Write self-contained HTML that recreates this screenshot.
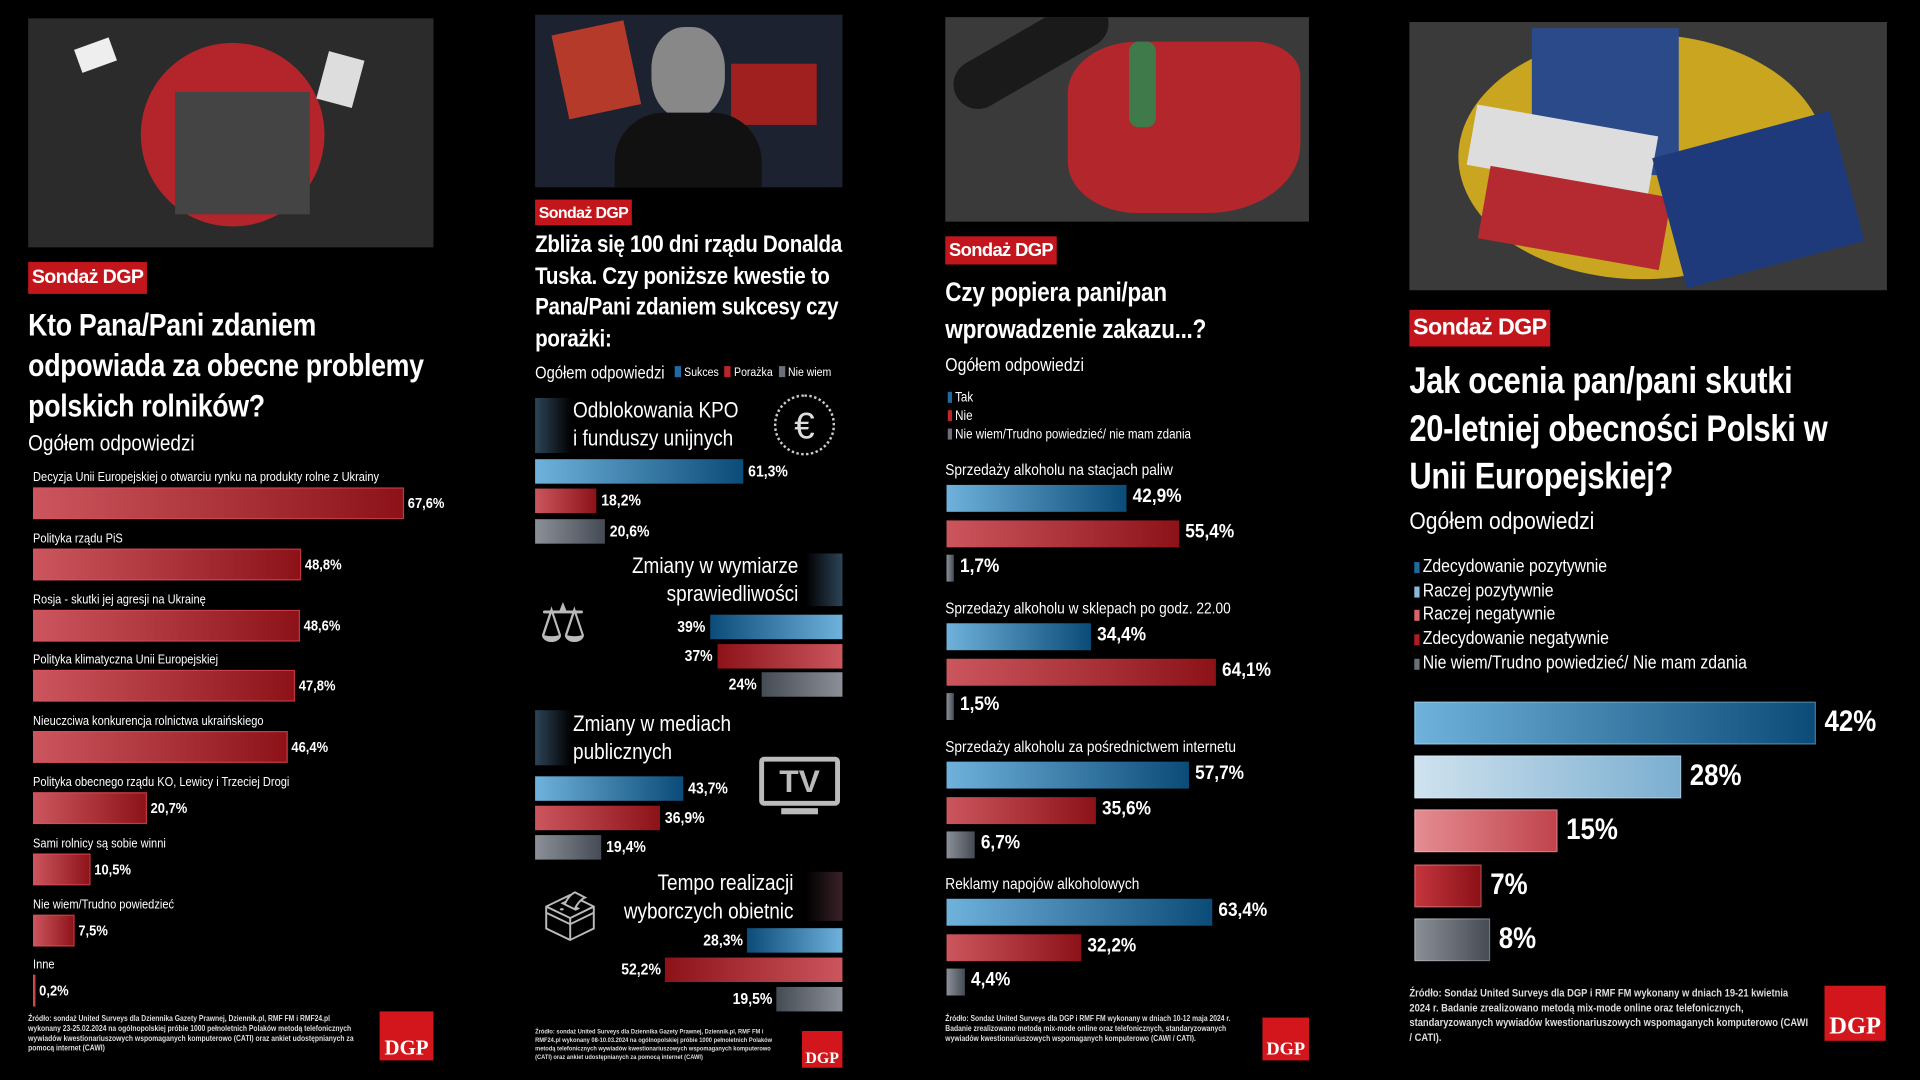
<!DOCTYPE html>
<html><head><meta charset="utf-8">
<style>
html,body{margin:0;padding:0;background:#000;width:1920px;height:1080px;overflow:hidden}
#stage{position:absolute;left:0;top:0;width:1568px;height:882px;transform:scale(1.22449);transform-origin:0 0;font-family:"Liberation Sans Narrow","Liberation Sans",sans-serif;color:#fff}
.abs{position:absolute}
.img{position:absolute;background:#2b2b2b;overflow:hidden}
.badge{position:absolute;background:#c3161c;color:#fff;font-weight:bold;padding:0 3px;white-space:nowrap;letter-spacing:-0.5px}
.title{position:absolute;font-weight:bold;white-space:nowrap;letter-spacing:-0.3px;transform:scaleX(.84);transform-origin:0 0}
.sub{position:absolute;white-space:nowrap;transform:scaleX(.86);transform-origin:0 0}
.sub.r{transform-origin:100% 0}
.lbl{position:absolute;white-space:nowrap;font-size:11px;transform:scaleX(.86);transform-origin:0 0}
.val{position:absolute;white-space:nowrap;font-weight:bold;transform:scaleX(.88);transform-origin:0 0}
.val.r{transform-origin:100% 0}
.bar{position:absolute}
.foot{position:absolute;font-size:6.5px;line-height:8px;color:#ddd;font-weight:bold;transform:scaleX(.85);transform-origin:0 0}
.logo{position:absolute;background:#d2161c;color:#fff;font-family:"Liberation Serif",serif;font-weight:bold;display:flex;align-items:flex-end;justify-content:center}
.sq{display:inline-block;width:6px;height:9px;margin-right:3px;vertical-align:-1px}
.hdr{position:absolute;background:linear-gradient(90deg,#2d4458,#000)}
</style></head><body>
<div id="stage">

<!-- Panel 1 -->
<div class="img" style="left:23px;top:15px;width:331px;height:187px">
  <div class="abs" style="left:92px;top:20px;width:150px;height:150px;border-radius:50%;background:#b3252a"></div>
  <div class="abs" style="left:120px;top:60px;width:110px;height:100px;background:#444"></div>
  <div class="abs" style="left:40px;top:20px;width:30px;height:20px;background:#eee;transform:rotate(-20deg)"></div>
  <div class="abs" style="left:240px;top:30px;width:30px;height:40px;background:#ddd;transform:rotate(15deg)"></div>
</div>
<div class="badge" style="left:23px;top:214px;height:26px;line-height:26px;font-size:16px">Sondaż DGP</div>
<div class="title" style="left:23px;top:249px;font-size:26px;line-height:33px">Kto Pana/Pani zdaniem<br>odpowiada za obecne problemy<br>polskich rolników?</div>
<div class="sub" style="left:23px;top:352px;font-size:18px">Ogółem odpowiedzi</div>
<div id="p1"></div>
<div class="foot" style="left:23px;top:829px;width:322px">Źródło: sondaż United Surveys dla Dziennika Gazety Prawnej, Dziennik.pl, RMF FM i RMF24.pl wykonany 23-25.02.2024 na ogólnopolskiej próbie 1000 pełnoletnich Polaków metodą telefonicznych wywiadów kwestionariuszowych wspomaganych komputerowo (CATI) oraz ankiet udostępnianych za pomocą internet (CAWI)</div>
<div class="logo" style="left:310px;top:826px;width:44px;height:40px;font-size:17px">DGP</div>

<!-- Panel 2 -->
<div class="img" style="left:437px;top:12px;width:251px;height:141px;background:#1c2230">
  <div class="abs" style="left:20px;top:10px;width:60px;height:70px;background:#b53a2a;transform:rotate(-12deg)"></div>
  <div class="abs" style="left:160px;top:40px;width:70px;height:50px;background:#a02020"></div>
  <div class="abs" style="left:95px;top:10px;width:60px;height:75px;border-radius:45%;background:#888"></div>
  <div class="abs" style="left:65px;top:80px;width:120px;height:61px;border-radius:40px 40px 0 0;background:#111"></div>
</div>
<div class="badge" style="left:437px;top:163px;height:21px;line-height:21px;font-size:13px">Sondaż DGP</div>
<div class="title" style="left:437px;top:188px;font-size:20px;line-height:25.5px">Zbliża się 100 dni rządu Donalda<br>Tuska. Czy poniższe kwestie to<br>Pana/Pani zdaniem sukcesy czy<br>porażki:</div>
<div class="sub" style="left:437px;top:296px;font-size:14px">Ogółem odpowiedzi</div>
<div class="sub" style="left:551px;top:299px;font-size:10px"><span class="sq" style="background:#1f6aa0"></span>Sukces &nbsp;<span class="sq" style="background:#b8252b"></span>Porażka &nbsp;<span class="sq" style="background:#6b7078"></span>Nie wiem</div>
<div class="hdr" style="left:437px;top:325px;width:30px;height:45px"></div>
<div class="sub" style="left:468px;top:324px;font-size:18px;line-height:23px">Odblokowania KPO<br>i funduszy unijnych</div>
<div class="abs" style="left:632px;top:322px;width:50px;height:50px;color:#ddd;font-size:30px;text-align:center;line-height:50px;border-radius:50%;border:2px dotted #ccc;box-sizing:border-box">€</div>
<div class="hdr" style="left:658px;top:452px;width:30px;height:43px;background:linear-gradient(270deg,#2d4458,#000)"></div>
<div class="sub r" style="left:480px;top:451px;width:172px;text-align:right;font-size:18px;line-height:23px">Zmiany w wymiarze<br>sprawiedliwości</div>
<div class="abs" style="left:440px;top:482px;width:70px;height:56px;color:#bbb;font-size:44px;line-height:56px">⚖</div>
<div class="hdr" style="left:437px;top:580px;width:30px;height:45px"></div>
<div class="sub" style="left:468px;top:580px;font-size:18px;line-height:23px">Zmiany w mediach<br>publicznych</div>
<div class="abs" style="left:620px;top:618px;width:66px;height:40px;border:4px solid #bbb;border-radius:4px;box-sizing:border-box;color:#bbb;font-weight:bold;font-size:26px;text-align:center;line-height:32px">TV</div>
<div class="abs" style="left:638px;top:660px;width:30px;height:5px;background:#bbb"></div>
<div class="hdr" style="left:658px;top:712px;width:30px;height:40px;background:linear-gradient(270deg,#3a2228,#000)"></div>
<div class="sub r" style="left:480px;top:710px;width:168px;text-align:right;font-size:18px;line-height:23px">Tempo realizacji<br>wyborczych obietnic</div>
<div class="abs" style="left:440px;top:722px;width:60px;height:55px;color:#bbb;font-size:40px;line-height:55px">🗳</div>
<div id="p2"></div>
<div class="foot" style="left:437px;top:840px;width:230px;font-size:5.5px;line-height:7px">Źródło: sondaż United Surveys dla Dziennika Gazety Prawnej, Dziennik.pl, RMF FM i RMF24.pl wykonany 08-10.03.2024 na ogólnopolskiej próbie 1000 pełnoletnich Polaków metodą telefonicznych wywiadów kwestionariuszowych wspomaganych komputerowo (CATI) oraz ankiet udostępnianych za pomocą internet (CAWI)</div>
<div class="logo" style="left:655px;top:842px;width:33px;height:30px;font-size:13px">DGP</div>

<!-- Panel 3 -->
<div class="img" style="left:772px;top:14px;width:297px;height:167px;background:#3a3a3a">
  <div class="abs" style="left:100px;top:20px;width:190px;height:140px;background:#b3262c;border-radius:30% 20% 40% 30%"></div>
  <div class="abs" style="left:0px;top:10px;width:140px;height:40px;background:#1a1a1a;border-radius:20px;transform:rotate(-30deg)"></div>
  <div class="abs" style="left:150px;top:20px;width:22px;height:70px;background:#3f7a4a;border-radius:8px"></div>
</div>
<div class="badge" style="left:772px;top:193px;height:23px;line-height:23px;font-size:15px">Sondaż DGP</div>
<div class="title" style="left:772px;top:224px;font-size:22px;line-height:30px">Czy popiera pani/pan<br>wprowadzenie zakazu...?</div>
<div class="sub" style="left:772px;top:290px;font-size:15px">Ogółem odpowiedzi</div>
<div class="sub" style="left:774px;top:318px;font-size:11px;line-height:15px"><span class="sq" style="background:#1f6aa0;width:4px"></span>Tak<br><span class="sq" style="background:#b8252b;width:4px"></span>Nie<br><span class="sq" style="background:#6b7078;width:4px"></span>Nie wiem/Trudno powiedzieć/ nie mam zdania</div>
<div id="p3"></div>
<div class="foot" style="left:772px;top:829px;width:294px">Źródło: Sondaż United Surveys dla DGP i RMF FM wykonany w dniach 10-12 maja 2024 r. Badanie zrealizowano metodą mix-mode online oraz telefonicznych, standaryzowanych wywiadów kwestionariuszowych wspomaganych komputerowo (CAWI / CATI).</div>
<div class="logo" style="left:1031px;top:831px;width:38px;height:35px;font-size:15px">DGP</div>

<!-- Panel 4 -->
<div class="img" style="left:1151px;top:18px;width:390px;height:219px;background:#3a3a3a">
  <div class="abs" style="left:40px;top:10px;width:300px;height:200px;border-radius:50%;background:#c9a520"></div>
  <div class="abs" style="left:100px;top:5px;width:120px;height:120px;background:#2b4a8a"></div>
  <div class="abs" style="left:50px;top:80px;width:150px;height:50px;background:#ddd;transform:rotate(10deg)"></div>
  <div class="abs" style="left:60px;top:130px;width:150px;height:60px;background:#b52a30;transform:rotate(10deg)"></div>
  <div class="abs" style="left:210px;top:90px;width:150px;height:110px;background:#1f3a7a;transform:rotate(-15deg)"></div>
</div>
<div class="badge" style="left:1151px;top:253px;height:30px;line-height:30px;font-size:19px">Sondaż DGP</div>
<div class="title" style="left:1151px;top:292px;font-size:30px;line-height:39px">Jak ocenia pan/pani skutki<br>20-letniej obecności Polski w<br>Unii Europejskiej?</div>
<div class="sub" style="left:1151px;top:415px;font-size:20px">Ogółem odpowiedzi</div>
<div class="sub" style="left:1155px;top:453px;font-size:15px;line-height:19.7px"><span class="sq" style="background:#1f6aa0;width:5px"></span>Zdecydowanie pozytywnie<br><span class="sq" style="background:#8ab8d8;width:5px"></span>Raczej pozytywnie<br><span class="sq" style="background:#d8646a;width:5px"></span>Raczej negatywnie<br><span class="sq" style="background:#b01c22;width:5px"></span>Zdecydowanie negatywnie<br><span class="sq" style="background:#6b7078;width:5px"></span>Nie wiem/Trudno powiedzieć/ Nie mam zdania</div>
<div id="p4"></div>
<div class="foot" style="left:1151px;top:805px;width:385px;font-size:9px;line-height:12px">Źródło: Sondaż United Surveys dla DGP i RMF FM wykonany w dniach 19-21 kwietnia 2024 r. Badanie zrealizowano metodą mix-mode online oraz telefonicznych, standaryzowanych wywiadów kwestionariuszowych wspomaganych komputerowo (CAWI / CATI).</div>
<div class="logo" style="left:1490px;top:805px;width:50px;height:45px;font-size:20px">DGP</div>
</div>

<script>
// Panel 1 data
const p1Categories = ["Decyzja Unii Europejskiej o otwarciu rynku na produkty rolne z Ukrainy","Polityka rządu PiS","Rosja - skutki jej agresji na Ukrainę","Polityka klimatyczna Unii Europejskiej","Nieuczciwa konkurencja rolnictwa ukraińskiego","Polityka obecnego rządu KO, Lewicy i Trzeciej Drogi","Sami rolnicy są sobie winni","Nie wiem/Trudno powiedzieć","Inne"];
const p1Values = [67.6,48.8,48.6,47.8,46.4,20.7,10.5,7.5,0.2];
// Panel 2 data
const p2Topics = ["Odblokowania KPO i funduszy unijnych","Zmiany w wymiarze sprawiedliwości","Zmiany w mediach publicznych","Tempo realizacji wyborczych obietnic"];
const p2Sukces = [61.3,39,43.7,28.3];
const p2Porazka = [18.2,37,36.9,52.2];
const p2NieWiem = [20.6,24,19.4,19.5];
const p2Labels = [["61,3%","18,2%","20,6%"],["39%","37%","24%"],["43,7%","36,9%","19,4%"],["28,3%","52,2%","19,5%"]];
// Panel 3 data
const p3Categories = ["Sprzedaży alkoholu na stacjach paliw","Sprzedaży alkoholu w sklepach po godz. 22.00","Sprzedaży alkoholu za pośrednictwem internetu","Reklamy napojów alkoholowych"];
const p3Tak = [42.9,34.4,57.7,63.4];
const p3Nie = [55.4,64.1,35.6,32.2];
const p3NieWiem = [1.7,1.5,6.7,4.4];
// Panel 4 data
const p4Categories = ["Zdecydowanie pozytywnie","Raczej pozytywnie","Raczej negatywnie","Zdecydowanie negatywnie","Nie wiem/Trudno powiedzieć/ Nie mam zdania"];
const p4Values = [42,28,15,7,8];

const RED="linear-gradient(90deg,#cc565e,#8c1218)",BLUE="linear-gradient(90deg,#6fb2dc,#0b4b78)",GRAY="linear-gradient(90deg,#8b9098,#454b54)";
const REDR="linear-gradient(270deg,#cc565e,#8c1218)",BLUER="linear-gradient(270deg,#6fb2dc,#0b4b78)",GRAYR="linear-gradient(270deg,#8b9098,#454b54)";
const fmt=v=>String(v).replace('.',',')+'%';
function box(parent,cls,l,t,w,h,bg,txt,fs){const d=document.createElement('div');d.className=cls;d.style.left=l+'px';d.style.top=t+'px';if(w!=null)d.style.width=w+'px';if(h!=null)d.style.height=h+'px';if(bg)d.style.background=bg;if(txt!=null)d.textContent=txt;if(fs)d.style.fontSize=fs+'px';parent.appendChild(d);return d;}

// Panel 1
const p1=document.getElementById('p1');
const x1=v=>v*4.48;
p1Values.forEach((v,i)=>{
  const y=384+i*49.8;
  const l=box(p1,'lbl',27,y,null,null,null,p1Categories[i],10.5);
  
  
  const b=box(p1,'bar',27,y+14,Math.max(1.5,x1(v)),26,RED);
  b.style.boxShadow='inset 0 0 0 1px rgba(230,80,90,.6)';
  
  
  const t=box(p1,'val',27+Math.max(1.5,x1(v))+3,y+20,null,null,null,fmt(v),12);
  
  
});

// Panel 2
const p2=document.getElementById('p2');
const x2=v=>v*2.77;
const p2Y=[[375,399,424],[502,526,549],[634,658,682],[758,782,806]];
const p2Right=[false,true,false,true];
p2Topics.forEach((topic,i)=>{
  const vals=[p2Sukces[i],p2Porazka[i],p2NieWiem[i]];
  const grads=p2Right[i]?[BLUER,REDR,GRAYR]:[BLUE,RED,GRAY];
  vals.forEach((v,k)=>{
    const w=x2(v),y=p2Y[i][k];
    const left=p2Right[i]?688-w:437;
    const b=box(p2,'bar',left,y,w,20,grads[k]);
    
    
    const t=box(p2,p2Right[i]?'val r':'val',p2Right[i]?left-40:left+w+4,y+2,p2Right[i]?36:null,null,null,p2Labels[i][k],13);
    if(p2Right[i])t.style.textAlign='right';
    
    
  });
});

// Panel 3
const p3=document.getElementById('p3');
const x3=v=>v*3.43;
const p3Base=[384,497,610,722];
p3Categories.forEach((c,i)=>{
  const y=p3Base[i];
  const l=box(p3,'lbl',772,y-8,null,null,null,c,13);
  
  
  [[p3Tak[i],BLUE],[p3Nie[i],RED],[p3NieWiem[i],GRAY]].forEach(([v,g],k)=>{
    const by=y+12+k*28.5,w=Math.max(6,x3(v));
    const b=box(p3,'bar',773,by,w,22,g);
    
    
    const t=box(p3,'val',773+w+5,by+1,null,null,null,fmt(v),16);
    
    
  });
});

// Panel 4
const p4=document.getElementById('p4');
const x4=v=>v*7.8;
const p4G=[BLUE,"linear-gradient(90deg,#cfe2ee,#7aaed0)","linear-gradient(90deg,#e48d92,#c0434c)","linear-gradient(90deg,#c4363e,#8a1016)",GRAY];
p4Values.forEach((v,i)=>{
  const y=573+i*44.2,w=x4(v);
  const b=box(p4,'bar',1155,y,w,35,p4G[i]);
  b.style.boxShadow='inset 0 0 0 1px rgba(255,255,255,.25)';
  
  
  b.title=p4Categories[i];
  const t=box(p4,'val',1155+w+7,y+3,null,null,null,v+'%',24);
  
  
});
</script>
</body></html>
